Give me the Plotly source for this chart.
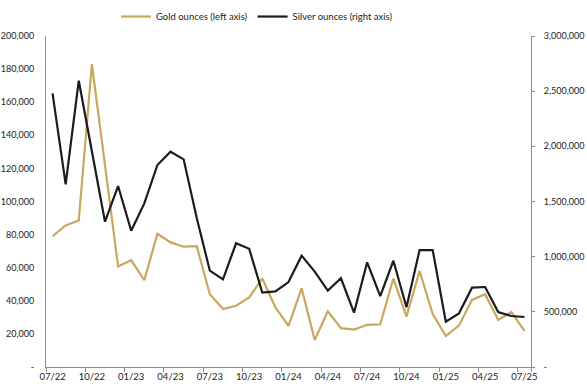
import plotly.graph_objects as go

months = ["07/22", "08/22", "09/22", "10/22", "11/22", "12/22", "01/23", "02/23", "03/23",
          "04/23", "05/23", "06/23", "07/23", "08/23", "09/23", "10/23", "11/23", "12/23",
          "01/24", "02/24", "03/24", "04/24", "05/24", "06/24", "07/24", "08/24", "09/24",
          "10/24", "11/24", "12/24", "01/25", "02/25", "03/25", "04/25", "05/25", "06/25",
          "07/25"]

gold = [79000, 85500, 88500, 183000, 122000, 60800, 64500, 52500, 80500, 75300, 72700,
        73000, 44000, 35000, 37000, 42000, 53500, 36000, 24800, 47500, 16300, 33600,
        23500, 22600, 25500, 25800, 53500, 30400, 58000, 32000, 18700, 25000, 40500,
        44000, 28400, 33200, 21900]

silver = [2480000, 1656000, 2595000, 1950000, 1317000, 1640000, 1235000, 1483000, 1831000,
          1951000, 1882000, 1350000, 873000, 794000, 1121000, 1072000, 674000, 686000,
          770000, 1009000, 864000, 692000, 804000, 492000, 949000, 643000, 963000, 541000,
          1060000, 1060000, 411000, 486000, 719000, 725000, 498000, 462000, 453000]

x_tick_labels = ["07/22", "10/22", "01/23", "04/23", "07/23", "10/23", "01/24", "04/24",
                 "07/24", "10/24", "01/25", "04/25", "07/25"]

left_ticks = [0, 20000, 40000, 60000, 80000, 100000, 120000, 140000, 160000, 180000, 200000]
left_text = ["-", "20,000", "40,000", "60,000", "80,000", "100,000", "120,000", "140,000",
             "160,000", "180,000", "200,000"]
right_ticks = [0, 500000, 1000000, 1500000, 2000000, 2500000, 3000000]
right_text = ["-", "500,000", "1,000,000", "1,500,000", "2,000,000", "2,500,000", "3,000,000"]

GOLD = "#C9A75C"
SILVER = "#1B1B1B"
AXIS = "#8C8C8C"
FONT = "Lato"
TXT = "#222222"

fig = go.Figure()
fig.add_trace(go.Scatter(x=months, y=gold, name="Gold ounces (left axis)", mode="lines",
                         line=dict(color=GOLD, width=2.2), yaxis="y"))
fig.add_trace(go.Scatter(x=months, y=silver, name="Silver ounces (right axis)", mode="lines",
                         line=dict(color=SILVER, width=2.2), yaxis="y2"))

fig.update_layout(
    width=587, height=387,
    margin=dict(l=46, r=56, t=36, b=20, autoexpand=False),
    paper_bgcolor="white", plot_bgcolor="white",
    font=dict(family=FONT, size=9, color=TXT),
    showlegend=True,
    legend=dict(orientation="h", x=0.435, xanchor="center", y=1.015, yanchor="bottom",
                font=dict(family=FONT, size=9.5, color=TXT),
                itemwidth=30, tracegroupgap=0, bgcolor="rgba(0,0,0,0)"),
    xaxis=dict(type="category", categoryorder="array", categoryarray=months,
               range=[-0.5, 36.5], tickmode="array", tickvals=x_tick_labels,
               ticktext=x_tick_labels, tickson="boundaries", ticks="outside",
               ticklen=4, tickcolor=AXIS, showline=True, linecolor=AXIS, linewidth=1,
               showgrid=False, zeroline=False, ticklabelstandoff=1, tickangle=0,
               automargin=False,
               tickfont=dict(family=FONT, size=9.5, color=TXT)),
    yaxis=dict(range=[0, 200000], autorange=False, tickmode="array", tickvals=left_ticks,
               ticktext=left_text, ticks="", showline=True, linecolor=AXIS, linewidth=1,
               showgrid=False, zeroline=False, ticklabelstandoff=9, automargin=False,
               tickfont=dict(family=FONT, size=9, color=TXT)),
    yaxis2=dict(range=[0, 3000000], autorange=False, overlaying="y", side="right",
                tickmode="array", tickvals=right_ticks, ticktext=right_text,
                ticks="outside", ticklen=3, tickcolor=AXIS, showline=True,
                linecolor=AXIS, linewidth=1, showgrid=False, zeroline=False,
                ticklabelstandoff=7, automargin=False,
                tickfont=dict(family=FONT, size=9, color=TXT)),
)

fig.write_html("out.html", config={"displayModeBar": False},
               post_script="document.body.style.margin='0px';document.body.style.padding='0px';")
